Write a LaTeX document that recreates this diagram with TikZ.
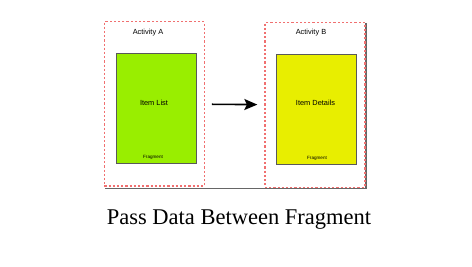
\documentclass[tikz,border=0pt]{standalone}
\usepackage{fontspec}
\setmainfont{Liberation Serif}
\setsansfont{Liberation Sans}
\usetikzlibrary{positioning,arrows.meta}
\definecolor{listgreen}{HTML}{99EE00}
\definecolor{detailyellow}{HTML}{E8EE00}
\definecolor{dashred}{HTML}{F07070}
\tikzstyle{arrow} = [-{Stealth[length=13pt,width=11pt,inset=2.5pt]}, line width=1.6pt]
\tikzstyle{activity} = [draw=dashred, line width=1.3pt, dash pattern=on 2.2pt off 2pt, minimum width=100pt, minimum height=164.5pt, inner sep=0pt]
\tikzstyle{fragment} = [draw=black!65, line width=1pt, minimum width=80pt, minimum height=110pt, inner sep=0pt]
\tikzstyle{boxtext} = [inner sep=0pt, font=\sffamily\fontsize{7.4}{8}\selectfont]
\tikzstyle{tagtext} = [inner sep=0pt, font=\sffamily\fontsize{4.6}{5}\selectfont]

\begin{document}
\begin{tikzpicture}[x=1pt, y=-1pt]
    \useasboundingbox (0,0) rectangle (472,267);

    % Shadow line
    \draw[black!60, line width=1.2pt] (105,188.6) -- (366,188.6) -- (366,23.5);

    % Activities
    \node[activity] (actA) at (154.3,103.9) {};
    \node[activity] (actB) at (315,105) {};
    \node[boxtext] (actAText) at (148,33) {Activity A};
    \node[boxtext] (actBText) at (311,33) {Activity B};

    % Fragments
    \node[fragment, fill=listgreen] (list) at (156,108.3) {};
    \node[fragment, fill=detailyellow] (details) at (316,110) {};
    \node[boxtext] (listText) at (154,103) {Item List};
    \node[boxtext] (detailsText) at (315.5,103) {Item Details};
    \node[tagtext] (listTag) at (153,157.7) {Fragment};
    \node[tagtext] (detailsTag) at (317,158) {Fragment};

    % Pass data
    \draw[arrow, shorten <=7pt, shorten >=7pt] (actA) -- (actB);

    % Title
    \node[anchor=base, inner sep=0pt, font=\fontsize{22.5}{26}\selectfont] (title) at (239,225) {Pass Data Between Fragment};
\end{tikzpicture}
\end{document}
